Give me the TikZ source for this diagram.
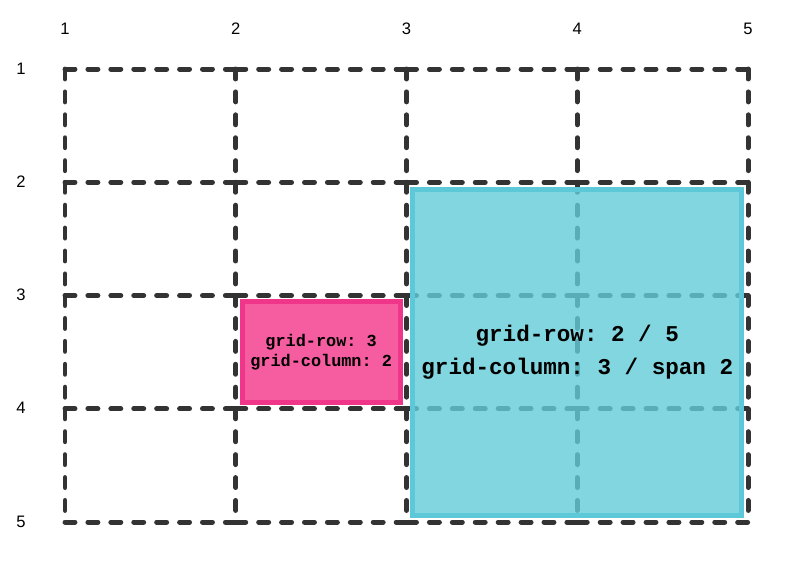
\documentclass[tikz,border=0pt]{standalone}
\usepackage{fontspec}
\setmainfont{Liberation Sans}
\newfontfamily\codefont{Liberation Mono}
\frenchspacing

\definecolor{gridgray}{HTML}{333333}
\definecolor{pinkfill}{HTML}{F65DA0}
\definecolor{pinkedge}{HTML}{F0368A}
\definecolor{cyanfill}{HTML}{63CCD8}
\definecolor{cyanedge}{HTML}{5CC8D8}

\tikzset{
    gridline/.style={draw=gridgray, line width=3.75pt, line cap=round,
        dash pattern=on 7.5pt off 9.75pt},
    numlabel/.style={inner sep=0pt, anchor=base, font=\fontsize{12.5}{14}\selectfont},
    pinkitem/.style={draw=pinkedge, fill=pinkfill, line width=3.75pt,
        minimum width=119pt, minimum height=76pt, align=center,
        font=\codefont\bfseries\fontsize{12.7}{15}\selectfont},
    cyanitem/.style={draw=cyanedge, fill=cyanfill, fill opacity=0.8, text opacity=1,
        line width=3.75pt, minimum width=247.5pt, minimum height=245.5pt,
        align=center, font=\codefont\bfseries\fontsize{17}{25}\selectfont}
}

\begin{document}
\begin{tikzpicture}[x=4.518cm, y=-2.997cm]
    \useasboundingbox (0.6193,0.3907) rectangle (5.281,5.362);

    % Dashed grid, one segment per cell edge
    \foreach \r in {1,...,5} {
        \foreach \c in {1,...,4} {
            \draw[gridline] (\c,\r) -- (\c+1,\r);
        }
    }
    \foreach \c in {1,...,5} {
        \foreach \r in {1,...,4} {
            \draw[gridline] (\c,\r) -- (\c,\r+1);
        }
    }

    % Line numbers
    \foreach \c in {1,...,5} {
        \node[numlabel] (col\c) at (\c,0.691) {\c};
    }
    \foreach \r in {1,...,5} {
        \node[numlabel] (row\r) at (0.742,\r+0.045) {\r};
    }

    % Placed items
    \node[pinkitem] (itemone) at (2.5,3.5) {grid-row: 3\\grid-column: 2};
    \node[cyanitem] (itemtwo) at (4,3.5) {grid-row: 2 / 5\\grid-column: 3 / span 2};

\end{tikzpicture}
\end{document}
